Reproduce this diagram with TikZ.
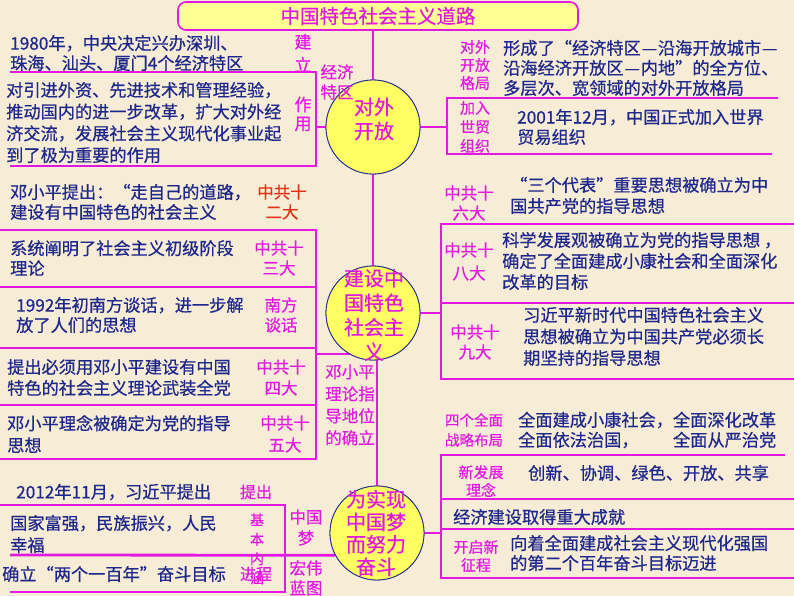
\documentclass[tikz,border=0pt]{standalone}
\usepackage{fontspec}
\setmainfont{Noto Sans CJK SC}[FakeBold=0.6]
\definecolor{bgc}{RGB}{247,236,214}
\definecolor{magc}{RGB}{225,25,225}
\definecolor{navyc}{RGB}{30,40,140}
\definecolor{redc}{RGB}{230,50,20}
\definecolor{circy}{RGB}{255,255,100}
\definecolor{titley}{RGB}{255,255,150}
\newcommand{\fdash}{\makebox[1em][c]{—}}
\begin{document}
\begin{tikzpicture}[x=1pt,y=-1pt,
  mag/.style={draw=magc, line width=2.8pt},
  txt/.style={text=navyc, font=\fontsize{17.2}{21}\selectfont, align=left, inner sep=0pt, anchor=west},
  lab/.style={text=magc, font=\fontsize{16.5}{21}\selectfont, align=center, inner sep=0pt},
  slab/.style={text=magc, font=\fontsize{15}{19}\selectfont, align=center, inner sep=0pt},
  circ/.style={circle, draw=navyc, line width=0.8pt, fill=circy, minimum size=94pt, inner sep=0pt},
  ctext/.style={text=magc, font=\fontsize{20}{24}\selectfont, align=center, inner sep=0pt},
  titlebox/.style={draw=magc, line width=1.6pt, fill=titley, rounded corners=8pt, minimum width=400pt, minimum height=28pt, inner sep=0pt, text=magc, font=\fontsize{19.5}{22}\selectfont}
]
\fill[bgc] (0,0) rectangle (794,596);
\useasboundingbox (0,0) rectangle (794,596);

% title and circles (positions)
\node[titlebox] (title) at (378,16) {中国特色社会主义道路};
\path (373,127) node[circ] (c1) {};
\path (373,313) node[circ] (c2) {};
\path (377,533) node[circ] (c3) {};

\draw[mag] (title.south -| c1.north) -- (c1.north);
\draw[mag] (c1.south) -- (c2.north);
\draw[mag] (316,354) -- (377,354) -- (c3.north);

% bracket of c1 (left)
\draw[mag] (c1.west) -- (316,127);
\draw[mag] (10,72) -- (316,72) -- (316,166) -- (10,166);
% bracket of c1 (right)
\draw[mag] (c1.east) -- (447,127);
\draw[mag] (778,98) -- (447,98) -- (447,154) -- (772,154);

% left boxes of c2
\draw[mag] (0,230) -- (316,230) -- (316,459) -- (0,459);
\draw[mag] (0,287) -- (316,287);
\draw[mag] (0,348) -- (316,348);
\draw[mag] (0,405) -- (316,405);

% right boxes of c2
\draw[mag] (c2.east) -- (441,313);
\draw[mag] (794,224) -- (441,224) -- (441,379) -- (794,379);
\draw[mag] (441,303) -- (794,303);

% right boxes of c3
\draw[mag] (c3.east) -- (441,533);
\draw[mag] (785,455) -- (441,455) -- (441,578) -- (794,578);
\draw[mag] (441,499) -- (794,499);
\draw[mag] (441,529) -- (794,529);

% left boxes of c3
\draw[mag] (0,505) -- (285,505) -- (285,592) -- (10,592);
\draw[mag] (10,555) -- (c3.208);

% circles redrawn on top of the lines
\node[circ] at (c1) {};
\node[circ] at (c2) {};
\node[circ] at (c3) {};

% circle texts
\node[ctext] (c1t) at (374,119) {对外\\开放};
\node[ctext, font=\fontsize{20}{24.5}\selectfont] (c2t) at (374,315) {建设中\\国特色\\社会主\\义};
\node[ctext, font=\fontsize{20}{22.5}\selectfont] (c3t) at (376,533) {为实现\\中国梦\\而努力\\奋斗};

% ---- c1 left
\node[txt, font=\fontsize{17.2}{20}\selectfont] (t1) at (10,53) {1980年，中央决定兴办深圳、\\珠海、汕头、厦门4个经济特区};
\node[txt, font=\fontsize{17.2}{21.7}\selectfont] (t2) at (6,122.5) {对引进外资、先进技术和管理经验，\\推动国内的进一步改革，扩大对外经\\济交流，发展社会主义现代化事业起\\到了极为重要的作用};
\node[lab, font=\fontsize{17}{23}\selectfont] (lJL) at (303,53) {建\\立};
\node[lab, font=\fontsize{17}{19}\selectfont] (lZY) at (303,114) {作\\用};
\node[lab, font=\fontsize{16.5}{20}\selectfont] (lJJ) at (337,82) {经济\\特区};

% ---- c1 right
\node[slab, font=\fontsize{15}{18}\selectfont] (lGJ) at (475,65) {对外\\开放\\格局};
\node[txt, font=\fontsize{17.2}{20}\selectfont] (t3) at (503,68) {形成了“经济特区\fdash 沿海开放城市\fdash\\沿海经济开放区\fdash 内地”的全方位、\\多层次、宽领域的对外开放格局};
\node[slab] (lWTO) at (475,127) {加入\\世贸\\组织};
\node[txt, font=\fontsize{17.2}{20}\selectfont] (t4) at (517,127) {2001年12月，中国正式加入世界\\贸易组织};

% ---- c2 left
\node[txt, font=\fontsize{17.2}{20}\selectfont] (t5) at (10,202) {邓小平提出：“走自己的道路，\\建设有中国特色的社会主义};
\node[lab, text=redc, font=\fontsize{16.5}{20}\selectfont] (l5) at (282,202) {中共十\\二大};
\node[txt, font=\fontsize{17.2}{20}\selectfont] (t6) at (10,258) {系统阐明了社会主义初级阶段\\理论};
\node[lab, font=\fontsize{16.5}{20}\selectfont] (l6) at (279,258) {中共十\\三大};
\node[txt, font=\fontsize{17.2}{20}\selectfont] (t7) at (16,315) {1992年初南方谈话，进一步解\\放了人们的思想};
\node[lab, font=\fontsize{16.5}{20}\selectfont] (l7) at (281,315) {南方\\谈话};
\node[txt] (t8) at (7,377.5) {提出必须用邓小平建设有中国\\特色的社会主义理论武装全党};
\node[lab] (l8) at (281,377.5) {中共十\\四大};
\node[txt, font=\fontsize{17.2}{22}\selectfont] (t9) at (7,434) {邓小平理念被确定为党的指导\\思想};
\node[lab, font=\fontsize{16.5}{22}\selectfont] (l9) at (285,434) {中共十\\五大};
\node[lab, font=\fontsize{16.5}{22}\selectfont] (lDX) at (350,405) {邓小平\\理论指\\导地位\\的确立};

% ---- c2 right
\node[lab, font=\fontsize{16.5}{20}\selectfont] (l10) at (469,203) {中共十\\六大};
\node[txt] (t10) at (510,195.5) {“三个代表”重要思想被确立为中\\国共产党的指导思想};
\node[lab, font=\fontsize{16.5}{23}\selectfont] (l11) at (469,261.5) {中共十\\八大};
\node[txt] (t11) at (502,261) {科学发展观被确立为党的指导思想 ，\\确定了全面建成小康社会和全面深化\\改革的目标};
\node[lab, font=\fontsize{16.5}{20}\selectfont] (l12) at (475,342) {中共十\\九大};
\node[txt, font=\fontsize{17.2}{21.5}\selectfont] (t12) at (523,336.5) {习近平新时代中国特色社会主义\\思想被确立为中国共产党必须长\\期坚持的指导思想};

% ---- c3 right
\node[slab, font=\fontsize{14.5}{20}\selectfont] (l13) at (474,430) {四个全面\\战略布局};
\node[txt, font=\fontsize{17.2}{20}\selectfont] (t13) at (518,430) {全面建成小康社会，全面深化改革\\\makebox[9em][l]{全面依法治国，}全面从严治党};
\node[slab, font=\fontsize{15}{18}\selectfont] (l14) at (481,481) {新发展\\理念};
\node[txt] (t14) at (528,473) {创新、协调、绿色、开放、共享};
\node[txt] (t15) at (453,517) {经济建设取得重大成就};
\node[slab, font=\fontsize{15}{18}\selectfont] (l16) at (476,556) {开启新\\征程};
\node[txt, font=\fontsize{17.2}{20}\selectfont] (t16) at (510,553) {向着全面建成社会主义现代化强国\\的第二个百年奋斗目标迈进};

% ---- c3 left
\node[txt] (t17) at (16,492) {2012年11月，习近平提出};
\node[lab, font=\fontsize{16}{20}\selectfont] (l17) at (256,492) {提出};
\node[txt, font=\fontsize{17.2}{22}\selectfont] (t18) at (10,534) {国家富强，民族振兴，人民\\幸福};
\node[lab, font=\fontsize{14}{19.5}\selectfont] (lJB) at (257,549) {基\\本\\内\\涵};
\node[lab, font=\fontsize{16}{20}\selectfont] (l19) at (256,574) {进程};
\node[txt] (t19) at (2,574) {确立“两个一百年”奋斗目标};
\node[lab] (l20) at (306,527.5) {中国\\梦};
\node[lab, font=\fontsize{16.5}{20}\selectfont] (l21) at (306,578) {宏伟\\蓝图};
\end{tikzpicture}
\end{document}
